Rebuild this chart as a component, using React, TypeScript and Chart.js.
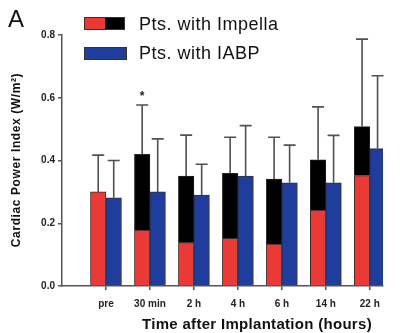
import React, { useEffect, useRef } from 'react';
import { Chart, registerables } from 'chart.js';

Chart.register(...registerables);

const categories = ['pre', '30 min', '2 h', '4 h', '6 h', '14 h', '22 h'];
const impellaRed = [0.30, 0.178, 0.138, 0.152, 0.134, 0.242, 0.352];
const impellaTotal = [0.30, 0.42, 0.35, 0.359, 0.341, 0.402, 0.508];
const impellaSD = [0.117, 0.157, 0.131, 0.115, 0.133, 0.169, 0.279];
const iabp = [0.281, 0.30, 0.29, 0.35, 0.329, 0.329, 0.438];
const iabpSD = [0.119, 0.169, 0.098, 0.161, 0.12, 0.151, 0.232];
const yTickValues = [0, 0.2, 0.4, 0.6, 0.8];
const significant = ['', '*', '', '', '', '', ''];

const RED = '#eb3a35';
const BLACK = '#000000';
const BLUE = '#1f3d9c';
const AXIS = '#555555';
const FONT = '"Liberation Sans", Arial, sans-serif';

export default function App() {
  const ref = useRef<HTMLCanvasElement | null>(null);

  useEffect(() => {
    if (!ref.current) return;
    const pos = categories.map((_, i) => i + 1);
    const impellaBlack = impellaTotal.map((t, i) => t - impellaRed[i]);

    const extras = {
      id: 'extras',
      afterDatasetsDraw(chart: any) {
        const ctx = chart.ctx;
        const y = chart.scales.y;
        ctx.save();
        ctx.strokeStyle = '#505050';
        ctx.lineWidth = 1.6;
        const drawErr = (dsIndex: number, totals: number[], sds: number[]) => {
          const meta = chart.getDatasetMeta(dsIndex);
          meta.data.forEach((bar: any, i: number) => {
            const x = bar.x;
            const top = y.getPixelForValue(totals[i]);
            const end = y.getPixelForValue(totals[i] + sds[i]);
            ctx.beginPath();
            ctx.moveTo(x, top);
            ctx.lineTo(x, end);
            ctx.moveTo(x - 6, end);
            ctx.lineTo(x + 6, end);
            ctx.stroke();
          });
        };
        drawErr(1, impellaTotal, impellaSD);
        drawErr(2, iabp, iabpSD);

        const metaImp = chart.getDatasetMeta(1);
        ctx.fillStyle = '#222';
        ctx.font = `bold 12px ${FONT}`;
        ctx.textAlign = 'center';
        ctx.textBaseline = 'alphabetic';
        significant.forEach((s, i) => {
          if (!s) return;
          const x = metaImp.data[i].x;
          const end = y.getPixelForValue(impellaTotal[i] + impellaSD[i]);
          ctx.fillText(s, x, end - 5);
        });
        ctx.restore();
      },
      afterDraw(chart: any) {
        const ctx = chart.ctx;
        ctx.save();
        ctx.fillStyle = '#111';
        ctx.font = `24px ${FONT}`;
        ctx.textAlign = 'left';
        ctx.textBaseline = 'alphabetic';
        ctx.fillText('A', 8, 27);

        ctx.strokeStyle = '#333';
        ctx.lineWidth = 1;
        ctx.fillStyle = RED;
        ctx.fillRect(84, 17, 21, 13);
        ctx.fillStyle = BLACK;
        ctx.fillRect(105, 17, 20, 13);
        ctx.strokeRect(84.5, 17.5, 40, 12);
        ctx.fillStyle = BLUE;
        ctx.fillRect(84, 47, 43, 13);
        ctx.strokeRect(84.5, 47.5, 42, 12);

        ctx.fillStyle = '#111';
        ctx.font = `18px ${FONT}`;
        (ctx as any).letterSpacing = '0.5px';
        ctx.fillText('Pts. with Impella', 139, 30);
        ctx.fillText('Pts. with IABP', 139, 59);

        ctx.font = `bold 15px ${FONT}`;
        (ctx as any).letterSpacing = '0.3px';
        ctx.textAlign = 'center';
        ctx.fillText('Time after Implantation (hours)', 257, 329);

        ctx.translate(20, 160);
        ctx.rotate(-Math.PI / 2);
        ctx.font = `bold 12px ${FONT}`;
        (ctx as any).letterSpacing = '0.6px';
        ctx.fillText('Cardiac Power Index (W/m\u00B2)', 0, 0);
        ctx.restore();
      },
    };

    const chart = new Chart(ref.current, {
      type: 'bar',
      data: {
        datasets: [
          {
            label: 'Impella (red)',
            data: pos.map((x, i) => ({ x, y: impellaRed[i] })),
            backgroundColor: RED,
            borderColor: '#333',
            borderWidth: 1,
            stack: 'impella',
          },
          {
            label: 'Impella (black)',
            data: pos.map((x, i) => ({ x, y: impellaBlack[i] })),
            backgroundColor: BLACK,
            borderColor: '#222',
            borderWidth: 1,
            stack: 'impella',
          },
          {
            label: 'IABP',
            data: pos.map((x, i) => ({ x, y: iabp[i] })),
            backgroundColor: BLUE,
            borderColor: '#333',
            borderWidth: 1,
            stack: 'iabp',
          },
        ],
      },
      plugins: [extras],
      options: {
        animation: false,
        responsive: false,
        maintainAspectRatio: false,
        events: [],
        layout: { padding: { top: 35, right: 28, left: 0, bottom: 0 } },
        datasets: {
          bar: { barThickness: 15.5, grouped: true },
        },
        plugins: {
          legend: { display: false },
          tooltip: { enabled: false },
          title: { display: false },
        },
        scales: {
          x: {
            type: 'linear',
            offset: false,
            min: 0,
            max: 7.3,
            afterBuildTicks(scale: any) {
              scale.ticks = pos.map((v) => ({ value: v }));
            },
            afterFit(scale: any) {
              scale.height = 47;
            },
            ticks: {
              autoSkip: false,
              maxRotation: 0,
              padding: 8,
              color: '#222',
              font: { family: FONT, size: 10, weight: 'bold' },
              callback: (v: any) => categories[Number(v) - 1] ?? '',
            },
            grid: {
              offset: false,
              drawOnChartArea: false,
              drawTicks: true,
              tickLength: 4,
              color: AXIS,
              lineWidth: 1.5,
            },
            border: { display: true, color: AXIS, width: 1.5 },
          },
          y: {
            min: 0,
            max: 0.8,
            afterBuildTicks(scale: any) {
              scale.ticks = yTickValues.map((v) => ({ value: v }));
            },
            afterFit(scale: any) {
              scale.width = 62;
            },
            ticks: {
              padding: 3,
              color: '#222',
              font: { family: FONT, size: 10, weight: 'bold' },
              callback: (v: any) => Number(v).toFixed(1),
            },
            grid: {
              drawOnChartArea: false,
              drawTicks: true,
              tickLength: 4,
              color: AXIS,
              lineWidth: 1.5,
            },
            border: { display: true, color: AXIS, width: 1.5 },
          },
        },
      },
    } as any);

    return () => chart.destroy();
  }, []);

  return (
    <div style={{ position: 'fixed', left: 0, top: 0, width: 411, height: 333, background: '#fff' }}>
      <canvas ref={ref} width={411} height={333} style={{ display: 'block', width: 411, height: 333 }} />
    </div>
  );
}
